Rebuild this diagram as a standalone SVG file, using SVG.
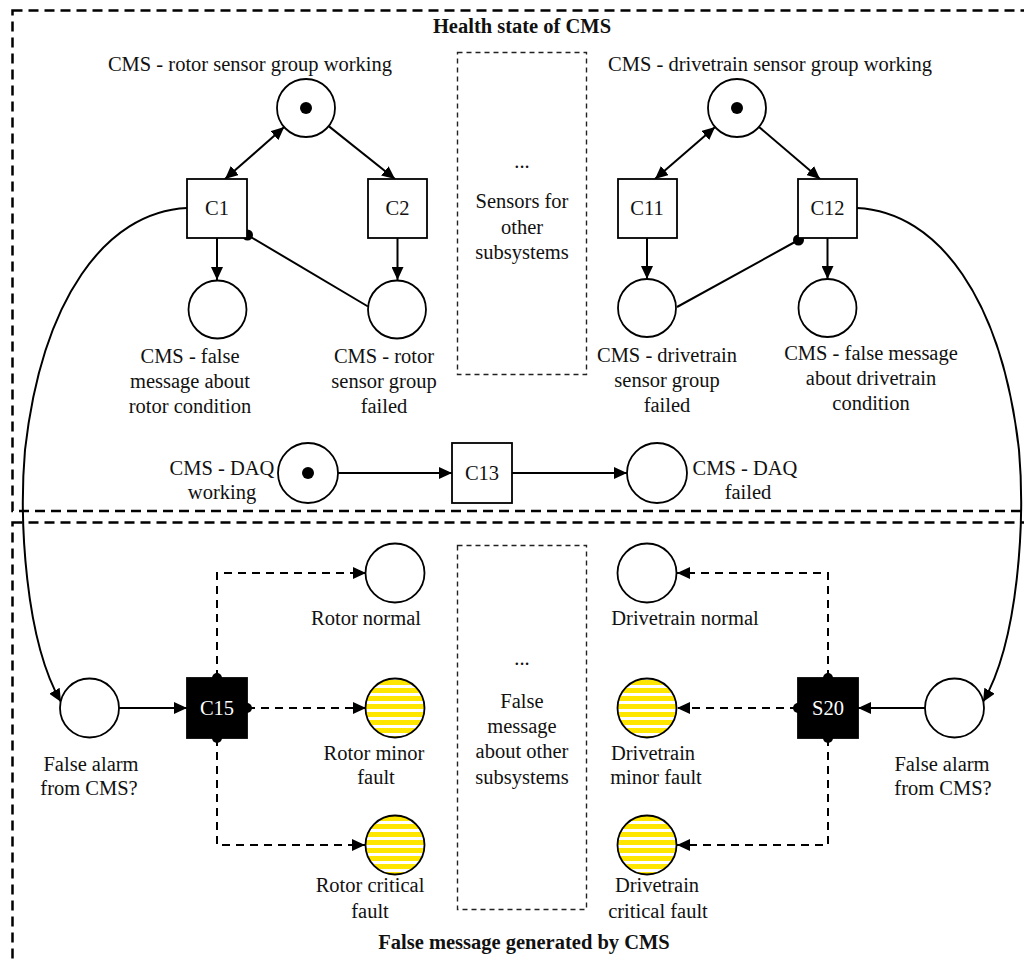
<svg xmlns="http://www.w3.org/2000/svg" width="1024" height="962" viewBox="0 0 1024 962">
  <style>
    text { font-family: "Liberation Serif", "Times New Roman", serif; font-size: 20.5px; fill: #111; text-anchor: middle; }
    .title { font-weight: bold; }
    .inv { fill: #fff; }
    .frame { fill: none; stroke: #000; stroke-width: 2.5; stroke-dasharray: 10 6; }
    .group { fill: none; stroke: #222; stroke-width: 1.4; stroke-dasharray: 5 4; }
    .place { fill: #fff; stroke: #000; stroke-width: 1.8; }
    .fault { fill: url(#stripes); stroke: #000; stroke-width: 1.8; }
    .trans { fill: #fff; stroke: #000; stroke-width: 1.8; }
    .imm { fill: #000; stroke: #000; stroke-width: 1.8; }
    .arc { fill: none; stroke: #000; stroke-width: 2; }
    .dash { fill: none; stroke: #000; stroke-width: 2; stroke-dasharray: 8 6; }
    .head { marker-end: url(#arrow); }
    .both { marker-start: url(#arrow); marker-end: url(#arrow); }
  </style>
  <defs>
    <marker id="arrow" markerUnits="userSpaceOnUse" markerWidth="13" markerHeight="12" refX="13" refY="6" orient="auto-start-reverse">
      <path d="M0,0 L13,6 L0,12 z" fill="#000"/>
    </marker>
    <pattern id="stripes" patternUnits="userSpaceOnUse" x="0" y="0" width="10" height="8">
      <rect width="10" height="8" fill="#fff"/>
      <rect width="10" height="5" fill="#FFE600"/>
    </pattern>
  </defs>

  <!-- section frames -->
  <g id="frames">
    <rect class="frame" x="12.5" y="10.5" width="1030" height="500.5"/>
    <rect class="frame" x="12.5" y="522.5" width="1030" height="460"/>
    <text class="title" x="522" y="33">Health state of CMS</text>
    <text class="title" x="524" y="949">False message generated by CMS</text>
  </g>

  <!-- placeholder groups for other subsystems -->
  <g id="other-sensors">
    <rect class="group" x="457.5" y="52.5" width="129" height="322"/>
    <text x="522" y="168">...</text>
    <text x="522" y="208">Sensors for</text>
    <text x="522" y="234">other</text>
    <text x="522" y="259">subsystems</text>
  </g>
  <g id="other-messages">
    <rect class="group" x="457.5" y="545.5" width="129" height="364"/>
    <text x="522" y="665">...</text>
    <text x="522" y="708">False</text>
    <text x="522" y="733">message</text>
    <text x="522" y="758">about other</text>
    <text x="522" y="784">subsystems</text>
  </g>

  <!-- connectors -->
  <g id="connectors">
    <line class="arc both" x1="284.2" y1="127.1" x2="225" y2="179"/>
    <line class="arc head" x1="328.7" y1="126.1" x2="395" y2="179"/>
    <line class="arc head" x1="217" y1="238" x2="217" y2="280"/>
    <line class="arc head" x1="397.5" y1="238" x2="397.5" y2="280"/>
    <line class="arc" x1="247.5" y1="235" x2="368" y2="306.5"/>
    <circle cx="247.5" cy="235" r="5.5" fill="#000"/>

    <line class="arc both" x1="715.1" y1="127" x2="655" y2="179"/>
    <line class="arc head" x1="759" y1="126.9" x2="820" y2="179"/>
    <line class="arc head" x1="647" y1="238" x2="647" y2="279"/>
    <line class="arc head" x1="827.5" y1="238" x2="827.5" y2="279"/>
    <line class="arc" x1="798.5" y1="240" x2="677" y2="307"/>
    <circle cx="798.5" cy="240" r="5.5" fill="#000"/>

    <line class="arc head" x1="338" y1="473" x2="452" y2="473"/>
    <line class="arc head" x1="512" y1="473" x2="627" y2="473"/>

    <path class="arc head" d="M187,208 C105,212 42,300 25,450 C19,520 25,640 61,702"/>
    <path class="arc head" d="M857,208 C939,212 1002,300 1019,450 C1025,520 1019,640 983,702"/>

    <line class="arc head" x1="119" y1="708" x2="187" y2="708"/>
    <polyline class="dash head" points="217,678 217,573 366,573"/>
    <line class="dash head" x1="247" y1="708" x2="366" y2="708"/>
    <polyline class="dash head" points="217,738 217,845 365,845"/>

    <line class="arc head" x1="925" y1="708" x2="858" y2="708"/>
    <polyline class="dash head" points="828,678 828,573 677,573"/>
    <line class="dash head" x1="798" y1="708" x2="677" y2="708"/>
    <polyline class="dash head" points="828,738 828,845 677,845"/>
  </g>

  <!-- rotor sensor group -->
  <g id="rotor-working">
    <circle class="place" cx="306" cy="108" r="29"/>
    <circle cx="306" cy="108" r="6" fill="#000"/>
    <text x="250" y="71">CMS - rotor sensor group working</text>
  </g>
  <g id="C1">
    <rect class="trans" x="187" y="179" width="60" height="59"/>
    <text x="217" y="215">C1</text>
  </g>
  <g id="C2">
    <rect class="trans" x="368" y="179" width="59" height="59"/>
    <text x="397.5" y="215">C2</text>
  </g>
  <g id="rotor-false-message">
    <circle class="place" cx="217.5" cy="309.5" r="29"/>
    <text x="190" y="363">CMS - false</text>
    <text x="190" y="388">message about</text>
    <text x="190" y="413">rotor condition</text>
  </g>
  <g id="rotor-sensor-failed">
    <circle class="place" cx="397" cy="309.5" r="29"/>
    <text x="384" y="363">CMS - rotor</text>
    <text x="384" y="388">sensor group</text>
    <text x="384" y="413">failed</text>
  </g>

  <!-- drivetrain sensor group -->
  <g id="drivetrain-working">
    <circle class="place" cx="737" cy="108" r="29"/>
    <circle cx="737" cy="108" r="6" fill="#000"/>
    <text x="770" y="71">CMS - drivetrain sensor group working</text>
  </g>
  <g id="C11">
    <rect class="trans" x="618" y="179" width="59" height="59"/>
    <text x="647" y="215">C11</text>
  </g>
  <g id="C12">
    <rect class="trans" x="798" y="179" width="59" height="59"/>
    <text x="827.5" y="215">C12</text>
  </g>
  <g id="drivetrain-sensor-failed">
    <circle class="place" cx="647" cy="308" r="29"/>
    <text x="667" y="362">CMS - drivetrain</text>
    <text x="667" y="387">sensor group</text>
    <text x="667" y="412">failed</text>
  </g>
  <g id="drivetrain-false-message">
    <circle class="place" cx="827.5" cy="308" r="29"/>
    <text x="871" y="360">CMS - false message</text>
    <text x="871" y="385">about drivetrain</text>
    <text x="871" y="410">condition</text>
  </g>

  <!-- data acquisition -->
  <g id="daq-working">
    <circle class="place" cx="308" cy="473" r="30"/>
    <circle cx="308" cy="473" r="6" fill="#000"/>
    <text x="222" y="475">CMS - DAQ</text>
    <text x="222" y="499">working</text>
  </g>
  <g id="C13">
    <rect class="trans" x="452" y="443" width="60" height="60"/>
    <text x="482" y="480">C13</text>
  </g>
  <g id="daq-failed">
    <circle class="place" cx="657" cy="473" r="30"/>
    <text x="745" y="475">CMS - DAQ</text>
    <text x="748" y="499">failed</text>
  </g>

  <!-- false message, rotor side -->
  <g id="false-alarm-rotor">
    <circle class="place" cx="89.5" cy="708" r="29.5"/>
    <text x="91" y="771">False alarm</text>
    <text x="89" y="795">from CMS?</text>
  </g>
  <g id="C15">
    <rect class="imm" x="187" y="678" width="60" height="60"/>
    <circle cx="217" cy="678" r="5" fill="#000"/>
    <circle cx="247" cy="708" r="5" fill="#000"/>
    <circle cx="217" cy="738" r="5" fill="#000"/>
    <text class="inv" x="217" y="715">C15</text>
  </g>
  <g id="rotor-normal">
    <circle class="place" cx="395" cy="573" r="29.5"/>
    <text x="366" y="625">Rotor normal</text>
  </g>
  <g id="rotor-minor-fault">
    <circle class="fault" cx="395" cy="708" r="29.5"/>
    <text x="374" y="760">Rotor minor</text>
    <text x="376" y="784">fault</text>
  </g>
  <g id="rotor-critical-fault">
    <circle class="fault" cx="395" cy="845" r="29.5"/>
    <text x="370" y="892">Rotor critical</text>
    <text x="370" y="918">fault</text>
  </g>

  <!-- false message, drivetrain side -->
  <g id="false-alarm-drivetrain">
    <circle class="place" cx="954.5" cy="708" r="29.5"/>
    <text x="942" y="771">False alarm</text>
    <text x="943" y="795">from CMS?</text>
  </g>
  <g id="S20">
    <rect class="imm" x="798" y="678" width="60" height="60"/>
    <circle cx="828" cy="678" r="5" fill="#000"/>
    <circle cx="798" cy="708" r="5" fill="#000"/>
    <circle cx="828" cy="738" r="5" fill="#000"/>
    <text class="inv" x="828" y="715">S20</text>
  </g>
  <g id="drivetrain-normal">
    <circle class="place" cx="647" cy="573" r="29.5"/>
    <text x="685" y="625">Drivetrain normal</text>
  </g>
  <g id="drivetrain-minor-fault">
    <circle class="fault" cx="647" cy="708" r="29.5"/>
    <text x="653" y="760">Drivetrain</text>
    <text x="656" y="784">minor fault</text>
  </g>
  <g id="drivetrain-critical-fault">
    <circle class="fault" cx="647" cy="845" r="29.5"/>
    <text x="657" y="892">Drivetrain</text>
    <text x="658" y="918">critical fault</text>
  </g>
</svg>
